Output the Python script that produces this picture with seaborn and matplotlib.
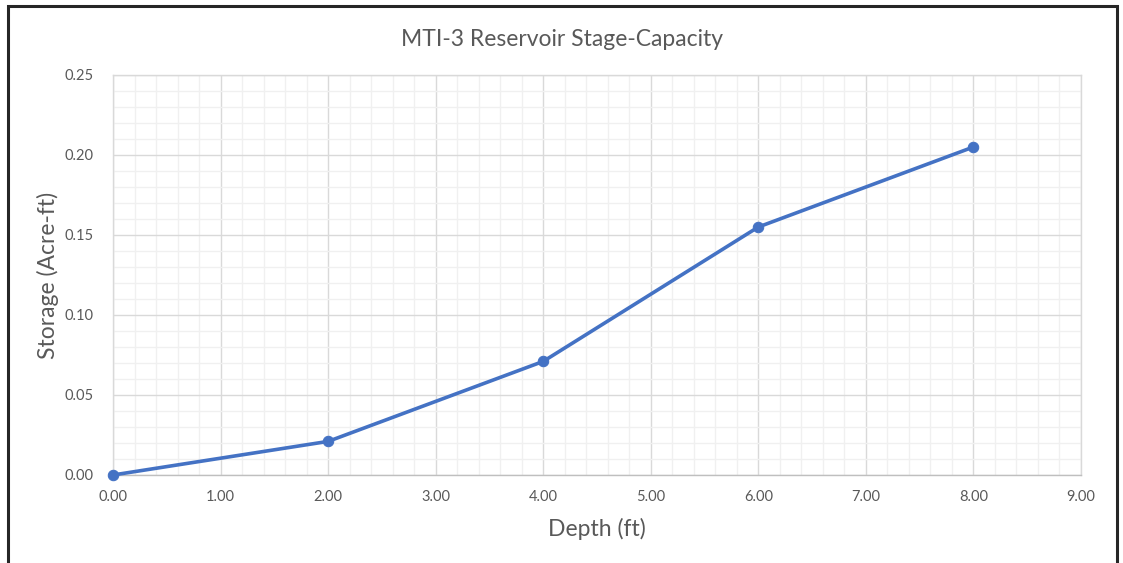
import matplotlib
matplotlib.use("Agg")
import matplotlib.pyplot as plt
import seaborn as sns
import pandas as pd
import numpy as np
from matplotlib.patches import Rectangle
from matplotlib.ticker import MultipleLocator, FormatStrFormatter

depth_ft = [0.0, 2.0, 4.0, 6.0, 8.0]
storage_acre_ft = [0.0, 0.021, 0.071, 0.155, 0.205]
title = "MTI-3 Reservoir Stage-Capacity"
x_label = "Depth (ft)"
y_label = "Storage (Acre-ft)"

df = pd.DataFrame({"Depth": depth_ft, "Storage": storage_acre_ft})

sns.set_theme(style="white")
plt.rcParams["font.family"] = ["Lato", "DejaVu Sans"]

W, H = 1123, 563
fig = plt.figure(figsize=(W / 100, H / 100), dpi=100)
fig.patch.set_facecolor("white")

# Outer chart frame
fig.patches.append(Rectangle((8 / W, -0.05), (1117 - 8) / W, 1.05 - 6 / H,
                             transform=fig.transFigure, fill=False,
                             edgecolor="#262626", linewidth=2.2, zorder=0))

ax = fig.add_axes([113 / W, 1 - 475 / H, (1081 - 113) / W, (475 - 75) / H])
sns.lineplot(data=df, x="Depth", y="Storage", ax=ax, color="#4472C4",
             linewidth=2.6, marker="o", markersize=7.5,
             markeredgecolor="#4472C4", clip_on=False, zorder=5)

ax.set_xlim(0, 9)
ax.set_ylim(0, 0.25)
ax.xaxis.set_major_locator(MultipleLocator(1))
ax.xaxis.set_minor_locator(MultipleLocator(0.2))
ax.yaxis.set_major_locator(MultipleLocator(0.05))
ax.yaxis.set_minor_locator(MultipleLocator(0.01))
ax.xaxis.set_major_formatter(FormatStrFormatter("%.2f"))
ax.yaxis.set_major_formatter(FormatStrFormatter("%.2f"))

ax.grid(True, which="minor", color="#F0F0F0", linewidth=1.0)
ax.grid(True, which="major", color="#D9D9D9", linewidth=1.0)
ax.set_axisbelow(True)
for s in ax.spines.values():
    s.set_color("#D9D9D9")
    s.set_linewidth(1.0)
ax.spines["bottom"].set_color("#BFBFBF")

ax.tick_params(which="both", length=0)
ax.tick_params(axis="x", labelsize=10.5, labelcolor="#595959", pad=11)
ax.tick_params(axis="y", labelsize=10.5, labelcolor="#595959", pad=14)

ax.set_xlabel(x_label, fontsize=16.5, color="#595959", labelpad=10)
ax.set_ylabel(y_label, fontsize=16.5, color="#595959", labelpad=4)
fig.text(562 / W, 1 - 40 / H, title, ha="center", va="center",
         fontsize=16.5, color="#595959")

fig.savefig("out.png", dpi=100)
